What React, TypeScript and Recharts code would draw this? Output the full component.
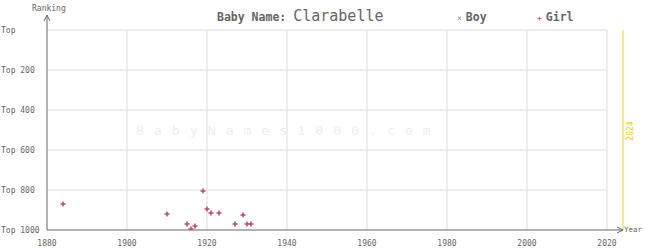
import React from 'react';
import { ScatterChart, Scatter, XAxis, YAxis, ReferenceLine, ReferenceDot } from 'recharts';

const girlYears = [1884, 1910, 1915, 1916, 1917, 1919, 1920, 1921, 1923, 1927, 1929, 1930, 1931];
const girlRanks = [870, 920, 970, 995, 980, 805, 895, 915, 915, 970, 925, 970, 970];
const yearTicks = [1880, 1900, 1920, 1940, 1960, 1980, 2000, 2020];
const rankTicks = [0, 200, 400, 600, 800, 1000];
const rankLabels = ['Top', 'Top 200', 'Top 400', 'Top 600', 'Top 800', 'Top 1000'];

const girlData = girlYears.map((year, i) => ({ year, rank: girlRanks[i] }));

const MONO = '"DejaVu Sans Mono", monospace';
const GRID = '#dddddd';
const AXIS = '#666666';
const GIRL = '#b94a78';

const Plus = (props: any) => {
  const { cx, cy } = props;
  return (
    <path d={`M${cx - 2.5},${cy}H${cx + 2.5}M${cx},${cy - 2.5}V${cy + 2.5}`} stroke={GIRL} strokeWidth={1.5} fill="none" />
  );
};

const RankTick = (props: any) => {
  const { y, payload } = props;
  const idx = rankTicks.indexOf(payload.value);
  return (
    <text x={1} y={y} dy={3} textAnchor="start" fontSize={8} fontFamily={MONO} fill={AXIS}>
      {rankLabels[idx]}
    </text>
  );
};

const YearTick = (props: any) => {
  const { x, y, payload } = props;
  return (
    <text x={x} y={y} dy={8} textAnchor="middle" fontSize={8} fontFamily={MONO} fill={AXIS}>
      {payload.value}
    </text>
  );
};

export default function App() {
  return (
    <div style={{ position: 'absolute', left: 0, top: 0, width: 645, height: 250, background: '#fff', fontFamily: MONO }}>
      <ScatterChart width={645} height={250} margin={{ top: 15, right: 22, left: 0, bottom: 0 }}>
        <XAxis
          type="number"
          dataKey="year"
          domain={[1880, 2024]}
          ticks={yearTicks}
          allowDataOverflow
          tick={<YearTick />}
          tickLine={false}
          stroke={AXIS}
          height={20}
        />
        <YAxis
          type="number"
          dataKey="rank"
          domain={[-75, 1000]}
          reversed
          ticks={rankTicks}
          allowDataOverflow
          tick={<RankTick />}
          tickLine={false}
          stroke={AXIS}
          width={47}
        />
        {rankTicks.slice(0, 5).map((r) => (
          <ReferenceLine key={'h' + r} segment={[{ x: 1880, y: r }, { x: 2020, y: r }]} stroke={GRID} />
        ))}
        {yearTicks.slice(1).map((yr) => (
          <ReferenceLine key={'v' + yr} segment={[{ x: yr, y: 0 }, { x: yr, y: 1000 }]} stroke={GRID} />
        ))}
        <ReferenceLine
          segment={[{ x: 2024, y: 0 }, { x: 2024, y: 1000 }]}
          stroke="#f5d21a"
          label={(p: any) => {
            const vb = p.viewBox || {};
            const cx = (vb.x ?? 623) + 7;
            const cy = 131;
            return (
              <text x={cx} y={cy} transform={`rotate(-90 ${cx} ${cy})`} textAnchor="middle" dy={3} fontSize={8} fontFamily={MONO} fill="#f0cc00">
                2024
              </text>
            );
          }}
        />
        <ReferenceDot
          x={1880}
          y={-75}
          ifOverflow="visible"
          shape={(p: any) => (
            <path d={`M${p.cx - 3},${p.cy + 6}L${p.cx},${p.cy}L${p.cx + 3},${p.cy + 6}`} stroke={AXIS} fill="none" />
          )}
        />
        <ReferenceDot
          x={2024}
          y={1000}
          ifOverflow="visible"
          shape={(p: any) => (
            <path d={`M${p.cx - 6},${p.cy - 3}L${p.cx},${p.cy}L${p.cx - 6},${p.cy + 3}`} stroke={AXIS} fill="none" />
          )}
        />
        <Scatter data={girlData} shape={<Plus />} isAnimationActive={false} />
      </ScatterChart>

      <div style={{ position: 'absolute', left: 136, top: 123, fontSize: 13, letterSpacing: 10.1, color: '#eeeeee', whiteSpace: 'nowrap' }}>
        BabyNames1000.com
      </div>
      <div style={{ position: 'absolute', left: 32, top: 4, fontSize: 8, color: AXIS }}>Ranking</div>
      <div style={{ position: 'absolute', left: 624, top: 225, fontSize: 7.5, color: AXIS }}>Year</div>
      <div style={{ position: 'absolute', left: 217, top: 6, whiteSpace: 'nowrap', color: '#666' }}>
        <span style={{ fontSize: 11.5, fontWeight: 'bold' }}>Baby Name: </span>
        <span style={{ fontSize: 15 }}>Clarabelle</span>
      </div>
      <div style={{ position: 'absolute', left: 457, top: 6, whiteSpace: 'nowrap', color: '#666' }}>
        <span style={{ fontSize: 8, color: '#8a8aa8' }}>×</span>
        <span style={{ fontSize: 11.5, fontWeight: 'bold', marginLeft: 4 }}>Boy</span>
      </div>
      <div style={{ position: 'absolute', left: 537, top: 6, whiteSpace: 'nowrap', color: '#666' }}>
        <span style={{ fontSize: 8, color: GIRL }}>+</span>
        <span style={{ fontSize: 11.5, fontWeight: 'bold', marginLeft: 4 }}>Girl</span>
      </div>
    </div>
  );
}
